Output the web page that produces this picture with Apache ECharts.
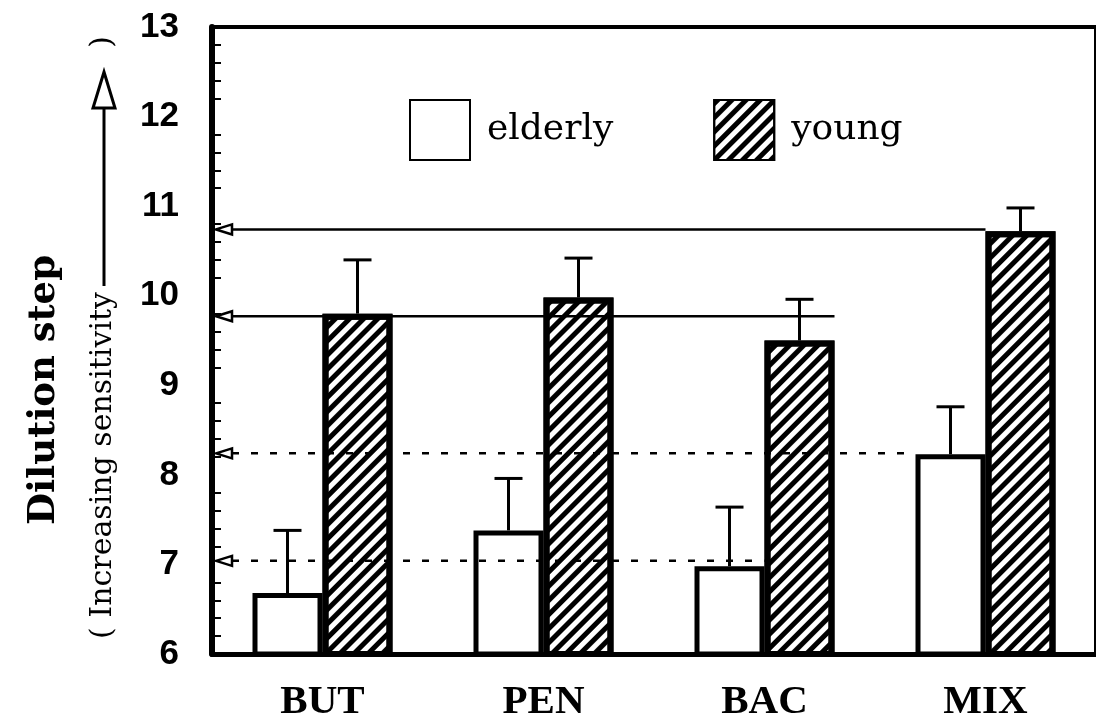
<!DOCTYPE html>
<html>
<head>
<meta charset="utf-8">
<script src="https://cdn.jsdelivr.net/npm/echarts@6/dist/echarts.min.js"></script>
<style>
  html, body { margin: 0; padding: 0; background: #fff; }
  #main { width: 1096px; height: 724px; }
</style>
</head>
<body>
<div id="main"></div>
<script>
// values
var categories = ['BUT', 'PEN', 'BAC', 'MIX'];
var elderlyMean = [6.68, 7.38, 6.98, 8.23];
var elderlyUpper = [7.38, 7.96, 7.64, 8.76];
var youngMean = [9.8, 9.98, 9.5, 10.72];
var youngUpper = [10.4, 10.42, 9.96, 10.98];
var refLevels = [10.74, 9.77, 8.24, 7.04];
var yTicks = [6, 7, 8, 9, 10, 11, 12, 13];

(function() {
  var BAR_W = 70;
  var myChart = echarts.init(document.getElementById('main'));

  // where each reference line stops: [category, which bar edge]  (-1 elderly left, 0 middle, 1 young right)
  var refEnds = [[3, 0], [2, 1], [3, -1], [2, 0]];
  var refDashed = [false, false, true, true];

  var errData = [];
  categories.forEach(function(c, i) {
    errData.push([i, elderlyMean[i], elderlyUpper[i], -1]);
    errData.push([i, youngMean[i], youngUpper[i], 1]);
  });

  var refData = refLevels.map(function(v, i) {
    return [refEnds[i][0], v, refEnds[i][1], refDashed[i] ? 1 : 0];
  });

  var option = {
    animation: false,
    backgroundColor: '#fff',
    grid: {
      left: 212,
      top: 27,
      width: 892,
      height: 627,
      show: true,
      borderColor: '#000',
      borderWidth: 4
    },
    legend: {
      data: ['elderly', 'young'],
      left: 404,
      top: 94,
      itemWidth: 60,
      itemHeight: 60,
      itemGap: 100,
      icon: 'rect',
      textStyle: {
        color: '#000',
        fontSize: 36,
        fontFamily: 'DejaVu Serif',
        padding: [0, 0, 6, 12]
      }
    },
    xAxis: {
      type: 'category',
      data: categories,
      axisLine: { lineStyle: { color: '#000', width: 5 } },
      axisTick: { show: false },
      axisLabel: {
        color: '#000',
        fontSize: 41,
        fontWeight: 'bold',
        fontFamily: 'Liberation Serif',
        margin: 28
      }
    },
    yAxis: {
      type: 'value',
      min: yTicks[0],
      max: yTicks[yTicks.length - 1],
      interval: 1,
      splitLine: { show: false },
      axisLine: { show: true, lineStyle: { color: '#000', width: 6 } },
      axisTick: { inside: true, length: 16, lineStyle: { color: '#000', width: 3 } },
      minorTick: { show: true, splitNumber: 5, length: 9, lineStyle: { color: '#000', width: 2 } },
      axisLabel: {
        color: '#000',
        fontSize: 35,
        fontWeight: 'bold',
        fontFamily: 'Liberation Sans',
        margin: 33
      }
    },
    graphic: [
      {
        type: 'text',
        left: 26, top: 255,
        rotation: Math.PI / 2,
        style: {
          text: 'Dilution step',
          fill: '#000',
          font: 'bold 37px "DejaVu Serif"'
        }
      },
      {
        type: 'text',
        left: 88, top: 292,
        rotation: Math.PI / 2,
        style: {
          text: '( Increasing sensitivity',
          fill: '#000',
          font: '30px "DejaVu Serif"'
        }
      },
      {
        type: 'line',
        shape: { x1: 104, y1: 286, x2: 104, y2: 108 },
        style: { stroke: '#000', lineWidth: 3 }
      },
      {
        type: 'polygon',
        shape: { points: [[104, 72], [93, 108], [115, 108]] },
        style: { fill: '#fff', stroke: '#000', lineWidth: 3 }
      },
      {
        type: 'text',
        left: 88, top: 36,
        rotation: Math.PI / 2,
        style: {
          text: ')',
          fill: '#000',
          font: '30px "DejaVu Serif"'
        }
      }
    ],
    series: [
      {
        name: 'elderly',
        type: 'bar',
        data: elderlyMean,
        barWidth: BAR_W,
        barGap: '0%',
        itemStyle: { color: '#fff', borderColor: '#000', borderWidth: 5 }
      },
      {
        name: 'young',
        type: 'bar',
        data: youngMean,
        barWidth: BAR_W,
        itemStyle: {
          color: '#fff',
          borderColor: '#000',
          borderWidth: 6,
          decal: {
            symbol: 'rect',
            symbolSize: 1,
            color: '#000',
            dashArrayX: [1, 0],
            dashArrayY: [5, 5],
            rotation: -Math.PI / 4
          }
        }
      },
      {
        type: 'custom',
        name: 'err',
        z: 5,
        data: errData,
        renderItem: function(params, api) {
          var p0 = api.coord([api.value(0), api.value(1)]);
          var p1 = api.coord([api.value(0), api.value(2)]);
          var x = p0[0] + api.value(3) * BAR_W / 2;
          return {
            type: 'group',
            children: [
              { type: 'line', shape: { x1: x, y1: p0[1], x2: x, y2: p1[1] }, style: { stroke: '#000', lineWidth: 3 } },
              { type: 'line', shape: { x1: x - 14, y1: p1[1], x2: x + 14, y2: p1[1] }, style: { stroke: '#000', lineWidth: 3 } }
            ]
          };
        }
      },
      {
        type: 'custom',
        name: 'ref',
        z: 6,
        data: refData,
        renderItem: function(params, api) {
          var band = api.size([1, 0])[0];
          var pEnd = api.coord([api.value(0), api.value(1)]);
          var pStart = api.coord([0, api.value(1)]);
          var x0 = pStart[0] - band / 2;
          var x1 = pEnd[0] + api.value(2) * BAR_W;
          var y = pEnd[1];
          var dashed = api.value(3) === 1;
          return {
            type: 'group',
            children: [
              {
                type: 'line',
                shape: { x1: x0 + 20, y1: y, x2: x1, y2: y },
                style: { stroke: '#000', lineWidth: 2.5, lineDash: dashed ? [7, 12] : null }
              },
              {
                type: 'polygon',
                shape: { points: [[x0 + 4, y], [x0 + 20, y - 5], [x0 + 20, y + 5]] },
                style: { fill: '#fff', stroke: '#000', lineWidth: 2.5 }
              }
            ]
          };
        }
      }
    ]
  };

  myChart.setOption(option);
})();
</script>
</body>
</html>
